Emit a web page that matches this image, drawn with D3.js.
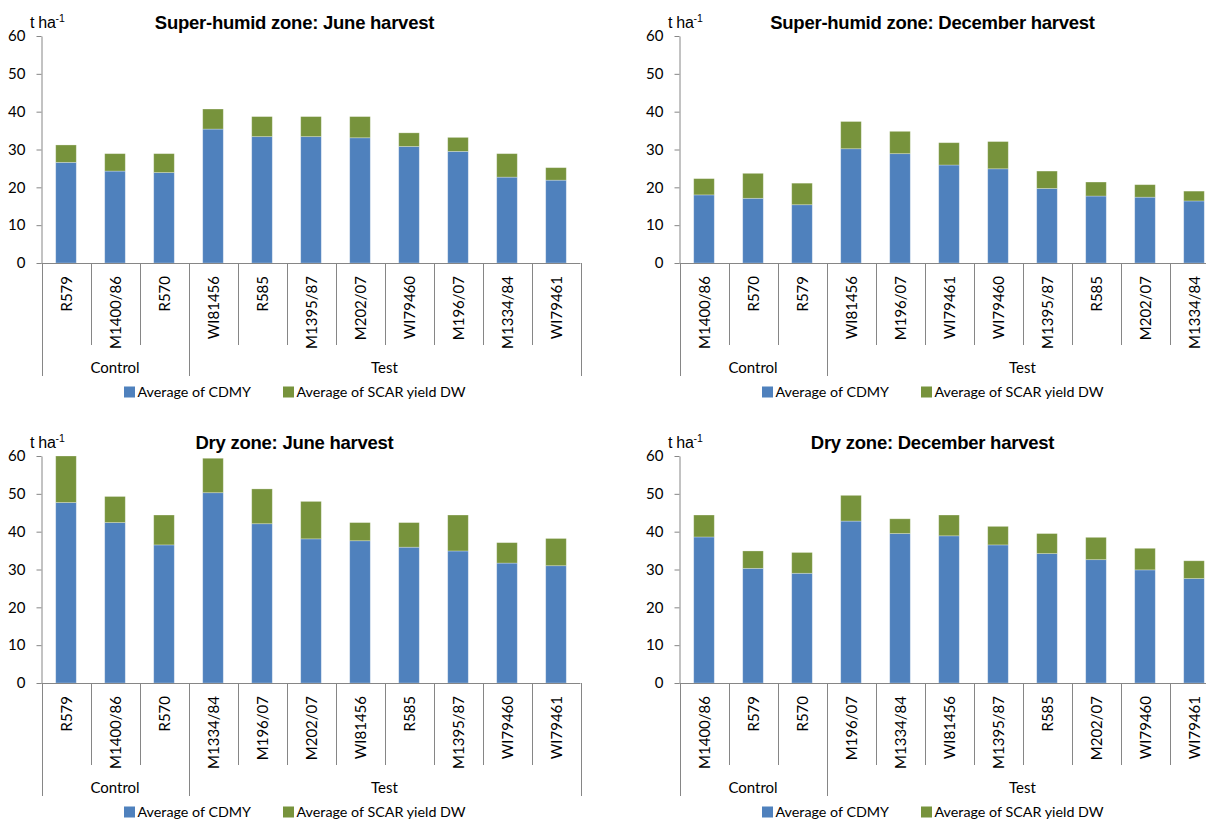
<!DOCTYPE html>
<html><head><meta charset="utf-8">
<script src="https://cdn.jsdelivr.net/npm/d3@7"></script>
<style>body{margin:0;background:#fff} svg{display:block}</style>
</head><body><svg id="c" width="1206" height="823"></svg>
<script>
const seriesNames = ["Average of CDMY", "Average of SCAR yield DW"];
const seriesColors = ["#4F81BD", "#77933C"];
const yTicks = [0, 10, 20, 30, 40, 50, 60];
const groupNames = ["Control", "Test"];
const controlCount = 3;
const unitLabel = "t ha";
const unitSup = "-1";

const shJuneTitle = "Super-humid zone: June harvest";
const shJuneCats = ["R579","M1400/86","R570","WI81456","R585","M1395/87","M202/07","WI79460","M196/07","M1334/84","WI79461"];
const shJuneCDMY = [26.6, 24.3, 23.9, 35.4, 33.4, 33.4, 33.1, 30.8, 29.5, 22.7, 21.9];
const shJuneSCAR = [4.6, 4.6, 5.0, 5.3, 5.3, 5.3, 5.6, 3.6, 3.7, 6.2, 3.3];

const shDecTitle = "Super-humid zone: December harvest";
const shDecCats = ["M1400/86","R570","R579","WI81456","M196/07","WI79461","WI79460","M1395/87","R585","M202/07","M1334/84"];
const shDecCDMY = [18.0, 17.1, 15.4, 30.2, 28.9, 25.9, 24.9, 19.7, 17.7, 17.4, 16.4];
const shDecSCAR = [4.3, 6.6, 5.7, 7.2, 5.9, 5.9, 7.2, 4.6, 3.7, 3.3, 2.6];

const dryJuneTitle = "Dry zone: June harvest";
const dryJuneCats = ["R579","M1400/86","R570","M1334/84","M196/07","M202/07","WI81456","R585","M1395/87","WI79460","WI79461"];
const dryJuneCDMY = [47.7, 42.4, 36.5, 50.3, 42.1, 38.1, 37.6, 35.9, 34.9, 31.7, 31.0];
const dryJuneSCAR = [12.3, 6.9, 7.9, 9.1, 9.2, 9.9, 4.8, 6.5, 9.5, 5.4, 7.2];

const dryDecTitle = "Dry zone: December harvest";
const dryDecCats = ["M1400/86","R579","R570","M196/07","M1334/84","WI81456","M1395/87","R585","M202/07","WI79460","WI79461"];
const dryDecCDMY = [38.6, 30.3, 29.0, 42.8, 39.5, 38.9, 36.5, 34.2, 32.6, 29.9, 27.6];
const dryDecSCAR = [5.8, 4.6, 5.5, 6.8, 3.9, 5.5, 4.9, 5.3, 5.9, 5.7, 4.7];

const panels = [
  {title: shJuneTitle, cats: shJuneCats, a: shJuneCDMY, b: shJuneSCAR, dx: 0, dy: 0},
  {title: shDecTitle, cats: shDecCats, a: shDecCDMY, b: shDecSCAR, dx: 638, dy: 0},
  {title: dryJuneTitle, cats: dryJuneCats, a: dryJuneCDMY, b: dryJuneSCAR, dx: 0, dy: 420},
  {title: dryDecTitle, cats: dryDecCats, a: dryDecCDMY, b: dryDecSCAR, dx: 638, dy: 420}
];

const svg = d3.select("#c");
const axisColor = "#868686";
const labelFont = "Lato, 'Open Sans', sans-serif";

panels.forEach(p => {
  const g = svg.append("g").attr("transform", `translate(${p.dx},${p.dy})`);
  const x = d3.scaleBand().domain(p.cats).range([41.5, 580.5]).paddingInner(0.58).paddingOuter(0.29);
  const y = d3.scaleLinear().domain([0, 60]).range([263, 36]);
  const step = x.step();
  const x0 = x.range()[0];

  // title
  g.append("text").attr("x", 294.5).attr("y", 28.5).attr("text-anchor", "middle")
    .attr("font-family", "'Liberation Sans', Arial, sans-serif").attr("font-weight", "bold")
    .attr("font-size", 18.5).attr("letter-spacing", -0.25).attr("fill", "#000").text(p.title);

  // unit label
  const u = g.append("text").attr("x", 30).attr("y", 27.5)
    .attr("font-family", "'Liberation Sans', Arial, sans-serif").attr("font-size", 16).attr("fill", "#000");
  u.append("tspan").attr("letter-spacing", -0.3).text(unitLabel);
  u.append("tspan").attr("font-size", 10.5).attr("dy", -6).text(unitSup);

  // bars
  const stack = p.cats.map((c, i) => ({c, a: p.a[i], b: p.b[i]}));
  g.append("g").selectAll("rect.a").data(stack).join("rect")
    .attr("x", d => x(d.c)).attr("width", x.bandwidth())
    .attr("y", d => y(d.a)).attr("height", d => y(0) - y(d.a))
    .attr("fill", seriesColors[0]).attr("stroke", "rgba(255,255,255,0.35)").attr("stroke-width", 0.8);
  g.append("g").selectAll("rect.b").data(stack).join("rect")
    .attr("x", d => x(d.c)).attr("width", x.bandwidth())
    .attr("y", d => y(d.a + d.b)).attr("height", d => y(d.a) - y(d.a + d.b))
    .attr("fill", seriesColors[1]).attr("stroke", "rgba(255,255,255,0.35)").attr("stroke-width", 0.8);

  // y axis
  const ya = g.append("g").attr("transform", "translate(41.5,0)")
    .call(d3.axisLeft(y).tickValues(yTicks).tickSize(5).tickSizeOuter(0).tickPadding(11));
  ya.select(".domain").attr("stroke", axisColor);
  ya.selectAll(".tick line").attr("stroke", axisColor);
  ya.selectAll(".tick text").attr("font-family", labelFont).attr("font-size", 15).attr("fill", "#000");

  // x axis line
  g.append("line").attr("x1", x0).attr("x2", x.range()[1]).attr("y1", y(0) + 0.5).attr("y2", y(0) + 0.5)
    .attr("stroke", axisColor);

  // dividers
  const n = p.cats.length;
  for (let i = 0; i <= n; i++) {
    const outer = (i === 0 || i === controlCount || i === n);
    const xx = Math.round(x0 + i * step) + 0.5;
    g.append("line").attr("x1", xx).attr("x2", xx).attr("y1", y(0)).attr("y2", outer ? 376 : 345)
      .attr("stroke", axisColor);
  }

  // category labels
  g.append("g").selectAll("text").data(p.cats).join("text")
    .attr("transform", d => `translate(${x(d) + x.bandwidth() / 2 + 5.5},276) rotate(-90)`)
    .attr("text-anchor", "end").attr("font-family", labelFont).attr("font-size", 15).attr("fill", "#000")
    .text(d => d);

  // group labels
  const gb = [[0, controlCount], [controlCount, n]];
  groupNames.forEach((gn, k) => {
    const cx = x0 + (gb[k][0] + gb[k][1]) / 2 * step;
    g.append("text").attr("x", cx).attr("y", 372.5).attr("text-anchor", "middle")
      .attr("font-family", labelFont).attr("font-size", 15).attr("fill", "#000").text(gn);
  });

  // legend
  const lx = [124, 283];
  seriesNames.forEach((s, k) => {
    g.append("rect").attr("x", lx[k]).attr("y", 386.5).attr("width", 11).attr("height", 11).attr("fill", seriesColors[k]);
    g.append("text").attr("x", lx[k] + 13.5).attr("y", 397).attr("font-family", labelFont)
      .attr("font-size", 14.3).attr("fill", "#000").text(s);
  });
});
</script></body></html>
